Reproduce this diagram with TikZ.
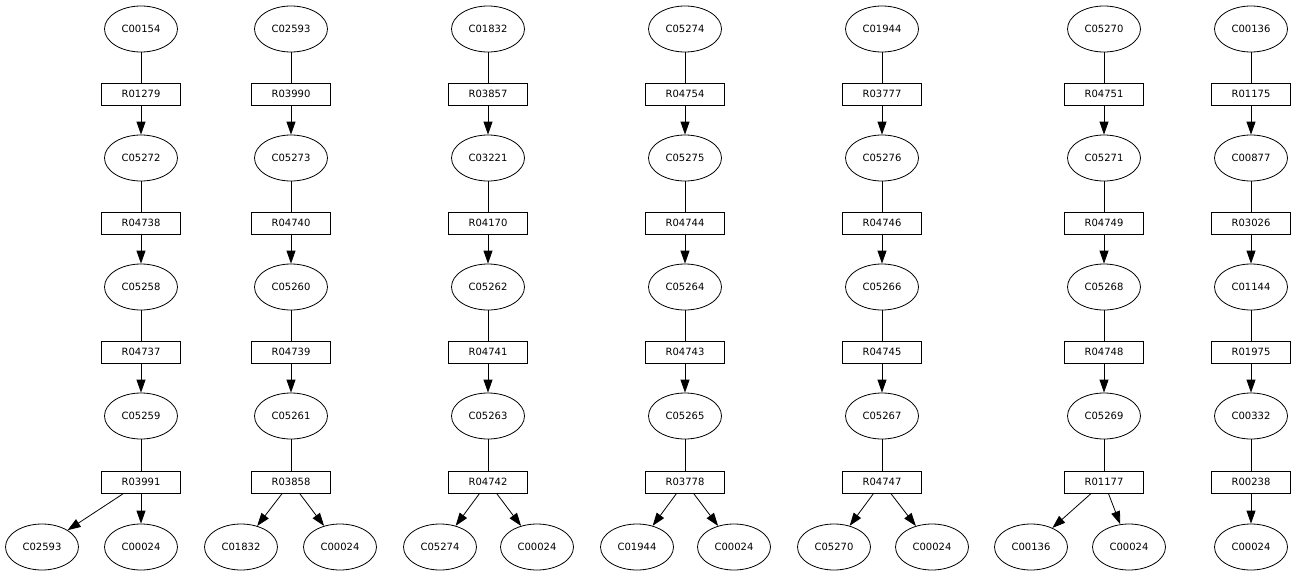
\documentclass[tikz,border=0pt]{standalone}
\usepackage{fontspec}
\setmainfont{DejaVu Sans}
\usetikzlibrary{shapes.geometric}
\usetikzlibrary{arrows.meta}

\tikzset{
  cpd/.style={ellipse,draw,line width=0.8pt,minimum width=73pt,minimum height=46pt,inner sep=0pt,font=\fontsize{10}{12}\selectfont},
  rxn/.style={rectangle,draw,line width=0.8pt,minimum width=79pt,minimum height=22pt,inner sep=0pt,font=\fontsize{10}{12}\selectfont},
  link/.style={line width=0.8pt},
  arr/.style={line width=0.8pt,-{Triangle[length=13pt,width=9pt]}}
}

\begin{document}
\begin{tikzpicture}[x=1pt,y=-1pt]
\useasboundingbox (0,0) rectangle (1296,576);
% column 1
\node[cpd] (m11) at (141,29) {C00154};
\node[rxn] (r11) at (141,94) {R01279};
\node[cpd] (m12) at (141,158) {C05272};
\node[rxn] (r12) at (141,223) {R04738};
\node[cpd] (m13) at (141,287) {C05258};
\node[rxn] (r13) at (141,352) {R04737};
\node[cpd] (m14) at (141,416) {C05259};
\node[rxn] (r14) at (141,482) {R03991};
\node[cpd] (m15) at (42,547) {C02593};
\node[cpd] (m16) at (141,547) {C00024};
% column 2
\node[cpd] (m21) at (291,29) {C02593};
\node[rxn] (r21) at (291,94) {R03990};
\node[cpd] (m22) at (291,158) {C05273};
\node[rxn] (r22) at (291,223) {R04740};
\node[cpd] (m23) at (291,287) {C05260};
\node[rxn] (r23) at (291,352) {R04739};
\node[cpd] (m24) at (291,416) {C05261};
\node[rxn] (r24) at (291,482) {R03858};
\node[cpd] (m25) at (241,547) {C01832};
\node[cpd] (m26) at (340,547) {C00024};
% column 3
\node[cpd] (m31) at (488,29) {C01832};
\node[rxn] (r31) at (488,94) {R03857};
\node[cpd] (m32) at (488,158) {C03221};
\node[rxn] (r32) at (488,223) {R04170};
\node[cpd] (m33) at (488,287) {C05262};
\node[rxn] (r33) at (488,352) {R04741};
\node[cpd] (m34) at (488,416) {C05263};
\node[rxn] (r34) at (488,482) {R04742};
\node[cpd] (m35) at (440,547) {C05274};
\node[cpd] (m36) at (537,547) {C00024};
% column 4
\node[cpd] (m41) at (685,29) {C05274};
\node[rxn] (r41) at (685,94) {R04754};
\node[cpd] (m42) at (685,158) {C05275};
\node[rxn] (r42) at (685,223) {R04744};
\node[cpd] (m43) at (685,287) {C05264};
\node[rxn] (r43) at (685,352) {R04743};
\node[cpd] (m44) at (685,416) {C05265};
\node[rxn] (r44) at (685,482) {R03778};
\node[cpd] (m45) at (637,547) {C01944};
\node[cpd] (m46) at (734,547) {C00024};
% column 5
\node[cpd] (m51) at (882,29) {C01944};
\node[rxn] (r51) at (882,94) {R03777};
\node[cpd] (m52) at (882,158) {C05276};
\node[rxn] (r52) at (882,223) {R04746};
\node[cpd] (m53) at (882,287) {C05266};
\node[rxn] (r53) at (882,352) {R04745};
\node[cpd] (m54) at (882,416) {C05267};
\node[rxn] (r54) at (882,482) {R04747};
\node[cpd] (m55) at (834,547) {C05270};
\node[cpd] (m56) at (932,547) {C00024};
% column 6
\node[cpd] (m61) at (1104,29) {C05270};
\node[rxn] (r61) at (1104,94) {R04751};
\node[cpd] (m62) at (1104,158) {C05271};
\node[rxn] (r62) at (1104,223) {R04749};
\node[cpd] (m63) at (1104,287) {C05268};
\node[rxn] (r63) at (1104,352) {R04748};
\node[cpd] (m64) at (1104,416) {C05269};
\node[rxn] (r64) at (1104,482) {R01177};
\node[cpd] (m65) at (1031,547) {C00136};
\node[cpd] (m66) at (1129,547) {C00024};
% column 7
\node[cpd] (m71) at (1251,29) {C00136};
\node[rxn] (r71) at (1251,94) {R01175};
\node[cpd] (m72) at (1251,158) {C00877};
\node[rxn] (r72) at (1251,223) {R03026};
\node[cpd] (m73) at (1251,287) {C01144};
\node[rxn] (r73) at (1251,352) {R01975};
\node[cpd] (m74) at (1251,416) {C00332};
\node[rxn] (r74) at (1251,482) {R00238};
\node[cpd] (m76) at (1251,547) {C00024};

% substrate -> reaction
\draw[link] (m11) -- (r11) (m12) -- (r12) (m13) -- (r13) (m14) -- (r14);
\draw[link] (m21) -- (r21) (m22) -- (r22) (m23) -- (r23) (m24) -- (r24);
\draw[link] (m31) -- (r31) (m32) -- (r32) (m33) -- (r33) (m34) -- (r34);
\draw[link] (m41) -- (r41) (m42) -- (r42) (m43) -- (r43) (m44) -- (r44);
\draw[link] (m51) -- (r51) (m52) -- (r52) (m53) -- (r53) (m54) -- (r54);
\draw[link] (m61) -- (r61) (m62) -- (r62) (m63) -- (r63) (m64) -- (r64);
\draw[link] (m71) -- (r71) (m72) -- (r72) (m73) -- (r73) (m74) -- (r74);
% reaction -> product
\draw[arr] (r11) edge (m12) (r12) edge (m13) (r13) edge (m14) (r14) edge (m15) (r14) edge (m16);
\draw[arr] (r21) edge (m22) (r22) edge (m23) (r23) edge (m24) (r24) edge (m25) (r24) edge (m26);
\draw[arr] (r31) edge (m32) (r32) edge (m33) (r33) edge (m34) (r34) edge (m35) (r34) edge (m36);
\draw[arr] (r41) edge (m42) (r42) edge (m43) (r43) edge (m44) (r44) edge (m45) (r44) edge (m46);
\draw[arr] (r51) edge (m52) (r52) edge (m53) (r53) edge (m54) (r54) edge (m55) (r54) edge (m56);
\draw[arr] (r61) edge (m62) (r62) edge (m63) (r63) edge (m64) (r64) edge (m65) (r64) edge (m66);
\draw[arr] (r71) edge (m72) (r72) edge (m73) (r73) edge (m74) (r74) edge (m76);

\end{tikzpicture}
\end{document}
